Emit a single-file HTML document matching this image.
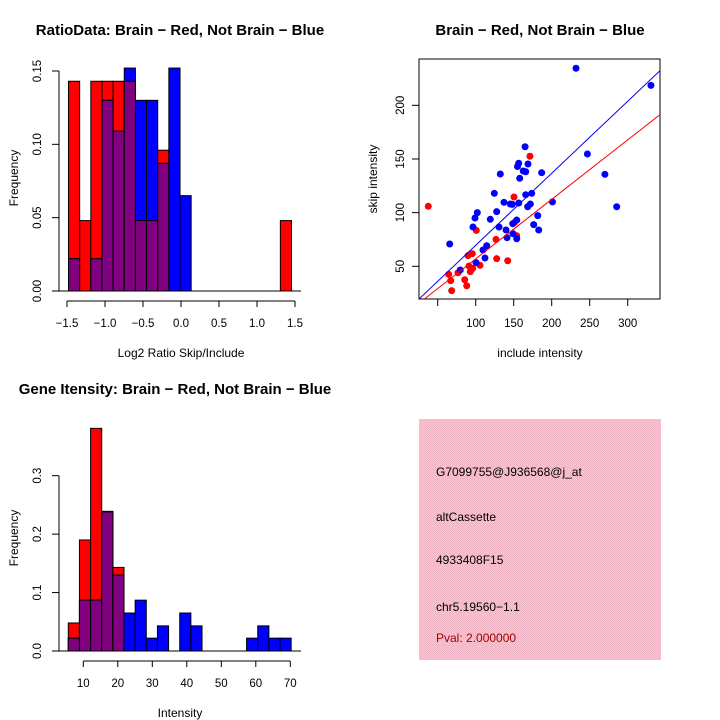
<!DOCTYPE html>
<html><head><meta charset="utf-8">
<style>
body{margin:0;background:#fff;}
svg{display:block;font-family:"Liberation Sans",Arial,sans-serif;}
</style></head>
<body>
<svg id="c" width="720" height="720" viewBox="0 0 720 720">
<defs>
<pattern id="pink" width="2" height="2" patternUnits="userSpaceOnUse">
<rect width="2" height="2" fill="#f6c6d2"/><rect width="1" height="1" fill="#eeb4c3"/><rect x="1" y="1" width="1" height="1" fill="#eeb4c3"/>
</pattern>
</defs>
</svg>
<script>
// ===== Data: ratio histogram =====
const ratioBinStart = -1.48;
const ratioBinWidth = 0.1467;
const ratioRed  = [0.143,0.048,0.143,0.143,0.143,0.143,0.048,0.048,0.096,0,0,0,0,0,0,0,0,0,0,0.048];
const ratioBlue = [0.022,0,0.022,0.130,0.109,0.152,0.130,0.130,0.087,0.152,0.065,0,0,0,0,0,0,0,0,0];
const ratioXTicks = [-1.5,-1.0,-0.5,0.0,0.5,1.0,1.5];
const ratioXLabels = ["\u22121.5","\u22121.0","\u22120.5","0.0","0.5","1.0","1.5"];
const ratioYTicks = [0,0.05,0.10,0.15];
const ratioYLabels = ["0.00","0.05","0.10","0.15"];
// ===== Data: intensity histogram =====
const intBinStart = 5.65;
const intBinWidth = 3.23;
const intRed  = [0.048,0.190,0.381,0.238,0.143,0,0,0,0,0,0,0,0,0,0,0,0,0,0,0];
const intBlue = [0.022,0.087,0.087,0.239,0.130,0.065,0.087,0.022,0.043,0,0.065,0.043,0,0,0,0,0.022,0.043,0.022,0.022];
const intXTicks = [10,20,30,40,50,60,70];
const intYTicks = [0,0.1,0.2,0.3];
const intYLabels = ["0.0","0.1","0.2","0.3"];
// ===== Data: scatter =====
const blueX = [232,330.6,247,270,285.5,201,165,156.6,155,168.8,162.6,165.8,186.8,132.4,157.9,165.8,173.7,124.5,137.2,145.5,148.2,156.6,171.9,168.4,102.1,127.6,99.1,119.2,181.6,148.7,154,176.3,130.7,96.4,139.9,182.9,149.1,141.2,154,114.5,109.6,112.2,100.4,79.7,65.8];
const blueY = [234.5,218.6,154.6,135.7,105.5,110,161.4,146,143,145.3,138.8,138.1,137.2,136,132,116.7,118,118,109.6,108,107.7,109,108,105.5,100,100.9,95,93.8,97.2,89.7,93.1,88.8,86.6,86.6,83.8,83.8,80.4,76.7,75.7,69.2,65.2,57.7,53.4,46.6,70.8];
const redX = [37.6,171.4,150.4,100.8,126.7,154,127.6,142.1,89.9,95.5,105.7,91.2,96,92.9,76.7,64.5,67.1,85.5,88.2,68.4,151.3];
const redY = [105.9,152.5,114.6,83.5,75.1,78.5,57.1,55.2,59.9,61.7,50.9,50.3,48.1,45,44,42.5,36.6,37.5,31.9,27.3,91];
const blueFit = [2.46,0.671]; // intercept, slope
const redFit = [1.55,0.554];
const scXTicks = [50,100,150,200,250,300];
const scXLabels = ["","100","150","200","250","300"];
const scYTicks = [50,100,150,200];
// ===== Info panel =====
const infoLines = ["G7099755@J936568@j_at","altCassette","4933408F15","chr5.19560\u22121.1","Pval: 2.000000"];

const svg = document.getElementById('c');
const NS = 'http://www.w3.org/2000/svg';
function mk(tag, attrs, parent){const e=document.createElementNS(NS,tag);for(const k in attrs)e.setAttribute(k,attrs[k]);(parent||svg).appendChild(e);return e;}
function txt(x,y,s,size,opts){const e=mk('text',Object.assign({x:x,y:y,'font-size':size,'text-anchor':'middle'},opts||{}));e.textContent=s;return e;}

// ---------- Top-left histogram ----------
const r_x = v => 67 + (v + 1.5) * 76;
const r_y = v => 291 - v * 1466.7;
const g1 = mk('g',{});


function drawHist(g, red, blue, start, w, xf, yf, name){
  for(let i=0;i<red.length;i++){
    const x0=xf(start+i*w), x1=xf(start+(i+1)*w);
    const r=red[i], b=blue[i], m=Math.min(r,b);
    if(r>0){const e=mk('rect',{x:x0,y:yf(r),width:x1-x0,height:yf(0)-yf(r),fill:'#ff0000',stroke:'#000','stroke-width':1},g);
      
      }
    if(b>0){const e=mk('rect',{x:x0,y:yf(b),width:x1-x0,height:yf(0)-yf(b),fill:'#0000ff',stroke:'#000','stroke-width':1},g);
      
      }
    if(m>0){const e=mk('rect',{x:x0,y:yf(m),width:x1-x0,height:yf(0)-yf(m),fill:'#800080',stroke:'#000','stroke-width':1},g);
      
      }
  }
}
drawHist(g1, ratioRed, ratioBlue, ratioBinStart, ratioBinWidth, r_x, r_y, 'ratio');
mk('line',{x1:59,y1:r_y(0),x2:301,y2:r_y(0),stroke:'#000','stroke-width':1},g1);
mk('line',{x1:59,y1:r_y(0),x2:59,y2:r_y(0.15),stroke:'#000'},g1);
ratioYTicks.forEach((v,i)=>{mk('line',{x1:52,y1:r_y(v),x2:59,y2:r_y(v),stroke:'#000'},g1);
  txt(37,r_y(v)+4,ratioYLabels[i],11.5,{transform:`rotate(-90 37 ${r_y(v)})`});});
mk('line',{x1:r_x(-1.5),y1:301,x2:r_x(1.5),y2:301,stroke:'#000'},g1);
ratioXTicks.forEach((v,i)=>{mk('line',{x1:r_x(v),y1:301,x2:r_x(v),y2:307,stroke:'#000'},g1);txt(r_x(v),327,ratioXLabels[i],11.5);});
txt(181,357,'Log2 Ratio Skip/Include',12);
txt(14,178,'Frequency',12,{transform:'rotate(-90 14 178)'}).setAttribute('y',182);
txt(180,35,'RatioData: Brain \u2212 Red, Not Brain \u2212 Blue',15,{'font-weight':'bold'});

// ---------- Scatter ----------
const s_x = v => 437.7 + (v - 50) * 0.76;
const s_y = v => 266.3 - (v - 50) * 1.0733;
const g2 = mk('g',{});


mk('rect',{x:419,y:59,width:241,height:240,fill:'none',stroke:'#000'},g2);
const clip = mk('clipPath',{id:'sc'},g2); mk('rect',{x:419,y:59,width:241,height:240},clip);
function fitLine(f,col,name){const xa=0,xb=400;const e=mk('line',{x1:s_x(xa),y1:s_y(f[0]+f[1]*xa),x2:s_x(xb),y2:s_y(f[0]+f[1]*xb),stroke:col,'stroke-width':1,'clip-path':'url(#sc)'},g2);
  
  }
redX.forEach((x,i)=>{const e=mk('circle',{cx:s_x(x),cy:s_y(redY[i]),r:3.5,fill:'#ff0000'},g2);
  
  });
blueX.forEach((x,i)=>{const e=mk('circle',{cx:s_x(x),cy:s_y(blueY[i]),r:3.5,fill:'#0000ff'},g2);
  
  });
fitLine(blueFit,'#0000ff','blue-fit-line');
fitLine(redFit,'#ff0000','red-fit-line');
scXTicks.forEach((v,i)=>{mk('line',{x1:s_x(v),y1:299,x2:s_x(v),y2:306,stroke:'#000'},g2);if(scXLabels[i])txt(s_x(v),327,scXLabels[i],11.5);});
scYTicks.forEach(v=>{mk('line',{x1:412,y1:s_y(v),x2:419,y2:s_y(v),stroke:'#000'},g2);txt(400,s_y(v)+4,String(v),11.5,{transform:`rotate(-90 400 ${s_y(v)})`});});
txt(540,357,'include intensity',12);
txt(374,182,'skip intensity',12,{transform:'rotate(-90 374 179)'});
txt(540,35,'Brain \u2212 Red, Not Brain \u2212 Blue',15,{'font-weight':'bold'});

// ---------- Bottom-left histogram ----------
const i_x = v => 83.3 + (v - 10) * 3.45;
const i_y = v => 651 - v * 584.4;
const g3 = mk('g',{});


drawHist(g3, intRed, intBlue, intBinStart, intBinWidth, i_x, i_y, 'intensity');
mk('line',{x1:59,y1:i_y(0),x2:301,y2:i_y(0),stroke:'#000'},g3);
mk('line',{x1:59,y1:i_y(0),x2:59,y2:i_y(0.3),stroke:'#000'},g3);
intYTicks.forEach((v,i)=>{mk('line',{x1:52,y1:i_y(v),x2:59,y2:i_y(v),stroke:'#000'},g3);txt(37,i_y(v)+4,intYLabels[i],11.5,{transform:`rotate(-90 37 ${i_y(v)})`});});
mk('line',{x1:i_x(10),y1:661,x2:i_x(70),y2:661,stroke:'#000'},g3);
intXTicks.forEach(v=>{mk('line',{x1:i_x(v),y1:661,x2:i_x(v),y2:667,stroke:'#000'},g3);txt(i_x(v),687,String(v),11.5);});
txt(180,717,'Intensity',12);
txt(14,538,'Frequency',12,{transform:'rotate(-90 14 538)'}).setAttribute('y',542);
txt(175,394,'Gene Itensity: Brain \u2212 Red, Not Brain \u2212 Blue',15,{'font-weight':'bold'});

// ---------- Info panel ----------
const g4 = mk('g',{});


mk('rect',{x:419,y:419,width:242,height:241,fill:'url(#pink)'},g4);
const infoY=[476,521,564,611,642];
infoLines.forEach((s,i)=>{const t=txt(436,infoY[i],s,12,{'text-anchor':'start',fill:i===4?'#a00000':'#000'});
  
  });
</script>
</body></html>
